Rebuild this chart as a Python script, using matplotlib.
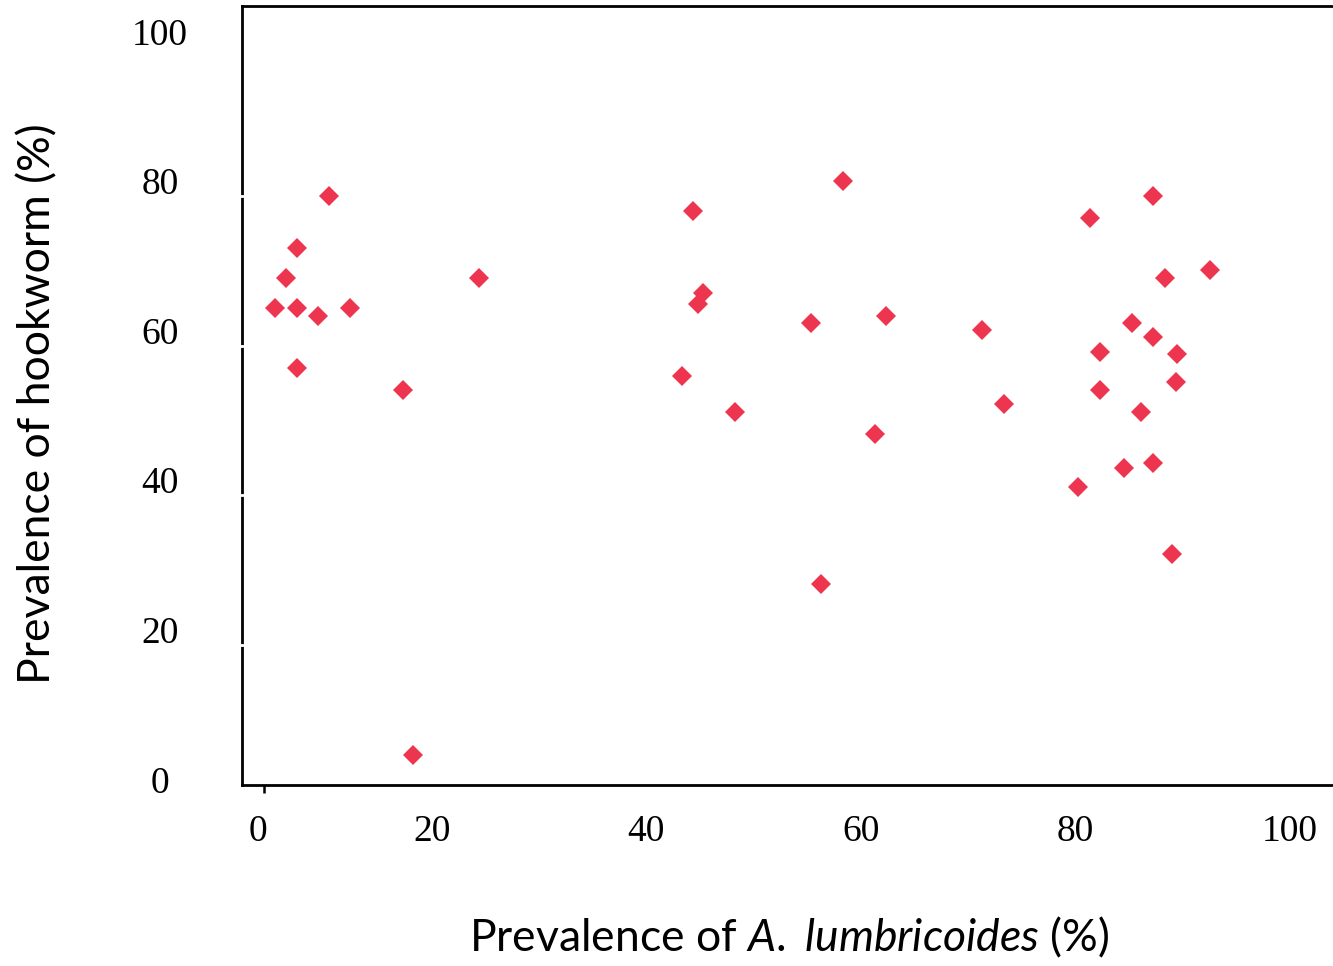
import matplotlib
matplotlib.use("Agg")
import matplotlib.pyplot as plt
from matplotlib.transforms import ScaledTranslation

# 数据：蛔虫感染率 vs 钩虫感染率 (%)
ascaris = [1.1, 2.1, 3.1, 3.1, 3.1, 5.1, 6.1, 8.1, 13.0, 13.9, 20.1,
           39.0, 40.05, 40.5, 41.0, 44.0, 51.1, 52.0, 54.05, 57.0, 58.1,
           67.0, 69.1, 76.0, 77.1, 78.0, 78.0, 80.3, 81.0, 81.9, 83.0,
           83.0, 83.0, 84.1, 84.7, 85.2, 85.1, 88.3]
hookworm = [63.0, 67.0, 71.0, 63.0, 55.0, 61.9, 78.0, 63.0, 52.1, 3.3, 67.0,
            53.9, 76.0, 63.6, 65.0, 49.1, 61.0, 26.1, 80.0, 46.2, 61.9,
            60.1, 50.2, 39.1, 75.1, 57.2, 52.1, 41.6, 61.0, 49.1, 78.0,
            59.2, 42.3, 67.0, 30.1, 56.9, 53.1, 68.1]

x_ticks = [0, 20, 40, 60, 80, 100]
y_ticks = [0, 20, 40, 60, 80, 100]
x_tick_labels = ['0', '20', '40', '60', '80', '100']
y_tick_labels = ['0', '20', '40', '60', '80', '100']

plt.rcParams['mathtext.fontset'] = 'custom'
plt.rcParams['mathtext.rm'] = 'Lato'
plt.rcParams['mathtext.it'] = 'Lato:italic'

fig = plt.figure(figsize=(13.33, 9.66), dpi=100)
ax = fig.add_axes([0.1816, 0.1874, 0.8203, 0.8064])

ax.plot(ascaris, hookworm, linestyle='none', marker='D', markersize=10.5,
        color='#EE3550', markeredgewidth=0)

ax.set_xlim(-2, 100)
ax.set_ylim(-0.74, 103.4)

for side in ['left', 'bottom', 'top']:
    ax.spines[side].set_linewidth(2.0)
ax.spines['right'].set_visible(False)

ax.xaxis.set_zorder(3)
ax.yaxis.set_zorder(3)

# x 轴刻度
ax.set_xticks(x_ticks, x_tick_labels)
ax.set_xticks([20, 40, 60, 80], minor=True)
ax.tick_params(axis='x', which='major', direction='out', length=6, width=1.8,
               pad=15, labelsize=27)
ax.tick_params(axis='x', which='minor', direction='inout', length=7, width=2,
               color='white')
for t in ax.xaxis.get_major_ticks()[1:]:
    t.tick1line.set_visible(False)
for i, lab in enumerate(ax.get_xticklabels()):
    dx = -6 if i == 0 else -46
    lab.set_transform(lab.get_transform() + ScaledTranslation(dx / 100, 0, fig.dpi_scale_trans))
    lab.set_fontfamily('Liberation Serif')

# y 轴刻度
ax.set_yticks(y_ticks, y_tick_labels)
ax.set_yticks([18, 38, 58, 78], minor=True)
ax.tick_params(axis='y', which='major', length=0, pad=59, labelsize=27)
ax.tick_params(axis='y', which='minor', direction='inout', length=7, width=2,
               color='white')
for lab in ax.get_yticklabels():
    lab.set_horizontalalignment('center')
    lab.set_fontfamily('Liberation Serif')

ax.set_xlabel(r'Prevalence of $\mathit{A.}$ $\mathit{lumbricoides}$ (%)',
              fontsize=32, family='Lato', va='center')
ax.xaxis.set_label_coords(0.5, -0.196)
ax.set_ylabel('Prevalence of hookworm (%)', fontsize=32, family='Lato', va='center')
ax.yaxis.set_label_coords(-0.1866, 0.49)

plt.savefig('out.png', dpi=100)
plt.close()
